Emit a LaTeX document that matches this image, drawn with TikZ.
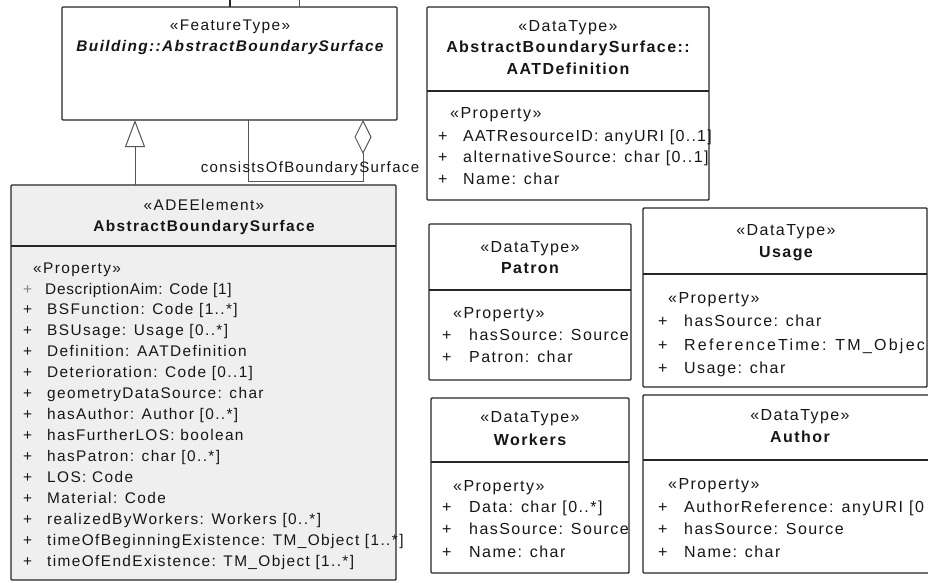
\documentclass[tikz,border=0pt]{standalone}
\usepackage{fontspec}
\setmainfont{Liberation Sans}[LetterSpace=9]
\usetikzlibrary{arrows.meta}
\definecolor{ink}{HTML}{161616}
\definecolor{edge}{HTML}{262626}
\definecolor{shade}{HTML}{EFEFEF}
\definecolor{wire}{HTML}{555555}
\newcommand\lsz{\fontsize{15.4}{18}\selectfont}
\newcommand\rsz{\fontsize{16}{19}\selectfont}
% one compartment of attribute rows: prefix, x of "+", x of text, list y/text
\newcommand\umlrows[4]{%
  \foreach \rowy/\rowtext [count=\rowi] in {#4} {
    \node[row] (#1-p\rowi) at (#2,\rowy) {+};
    \node[row] (#1-r\rowi) at (#3,\rowy) {\rowtext};
  }}
\begin{document}
\begin{tikzpicture}[x=1pt,y=-1pt,
  cls/.style={draw=edge, line width=1.4pt, rounded corners=1pt, anchor=north west,
    inner sep=0pt, outer sep=0pt},
  divider/.style={draw=edge, line width=1.4pt},
  txt/.style={text=ink, inner sep=0pt, text height=11pt, text depth=3pt},
  row/.style={txt, anchor=west},
  link/.style={draw=wire, line width=1pt},
]
\useasboundingbox (0,0) rectangle (928,583);
\clip (0,0) rectangle (928,583);

% ---------------- FeatureType ----------------
\node[cls, minimum width=335pt, minimum height=113pt] (ft) at (62,7) {};
\coordinate (up1) at (230,0);
\coordinate (up2) at (299,0);
\draw[divider] (ft.north -| up1) -- (up1);
\draw[link] (ft.north -| up2) -- (up2);
\begin{scope}[every node/.append style={font=\lsz}]
\node[txt] (ft-st) at (230,27) {«FeatureType»};
\node[txt, font=\lsz\bfseries\itshape] (ft-name) at (230,48) {Building::AbstractBoundarySurface};
\end{scope}

% ---------------- ADEElement ----------------
\node[cls, fill=shade, minimum width=385pt, minimum height=395pt] (ade) at (11,185) {};
\coordinate (adediv) at (0,246);
\draw[divider] (ade.west |- adediv) -- (ade.east |- adediv);
\begin{scope}[every node/.append style={font=\lsz}]
\node[txt] (ade-st) at (204,206) {«ADEElement»};
\node[txt, font=\lsz\bfseries] (ade-name) at (204,227) {AbstractBoundarySurface};
\node[row] (ade-prop) at (33,269) {«Property»};
\node[row, text=gray] (ade-p0) at (23,290) {+};
\node[row] (ade-r0) at (45,290) {\addfontfeature{LetterSpace=4.5}DescriptionAim: Code [1]};
\umlrows{ade}{23}{47}{
  310/{BSFunction: Code [1..*]},
  331/{BSUsage: Usage [0..*]},
  352/{Definition: AATDefinition},
  373/{Deterioration: Code [0..1]},
  394/{geometryDataSource: char},
  415/{hasAuthor: Author [0..*]},
  436/{hasFurtherLOS: boolean},
  457/{hasPatron: char [0..*]},
  478/{LOS: Code},
  499/{Material: Code},
  520/{realizedByWorkers: Workers [0..*]},
  541/{timeOfBeginningExistence: TM\_Object [1..*]},
  562/{timeOfEndExistence: TM\_Object [1..*]}}
\end{scope}

% ---------------- connectors ----------------
\coordinate (g) at (135,0);
\draw[link, -{Triangle[open, length=27pt, width=20pt, fill=white]}]
  (ade.north -| g) -- (ft.south -| g);
\coordinate (a1) at (248,181);
\coordinate (a2) at (363,181);
\draw[link, -{Diamond[open, length=34pt, width=17pt, fill=white]}]
  (ft.south -| a1) -- (a1) -- (a2) -- (ft.south -| a2);
\node[txt, font=\fontsize{15}{18}\selectfont] (assoc-label) at (310,168) {consistsOfBoundarySurface};

% ---------------- DataTypes ----------------
\begin{scope}[every node/.append style={font=\rsz}]
% AATDefinition
\node[cls, minimum width=282pt, minimum height=193pt] (aat) at (427,7) {};
\coordinate (aatdiv) at (0,91);
\draw[divider] (aat.west |- aatdiv) -- (aat.east |- aatdiv);
\node[txt] (aat-st) at (568,28) {«DataType»};
\node[txt, font=\rsz\bfseries] (aat-name1) at (568,49) {AbstractBoundarySurface::};
\node[txt, font=\rsz\bfseries] (aat-name2) at (568,71) {AATDefinition};
\node[row] (aat-prop) at (450,115) {«Property»};
\umlrows{aat}{438}{463}{
  137/{\addfontfeature{LetterSpace=8}AATResourceID: anyURI [0..1]},
  158/{alternativeSource: char [0..1]},
  180/{Name: char}}

% Patron
\node[cls, minimum width=202pt, minimum height=156pt] (patron) at (429,224) {};
\coordinate (patdiv) at (0,290);
\draw[divider] (patron.west |- patdiv) -- (patron.east |- patdiv);
\node[txt] (patron-st) at (530,248) {«DataType»};
\node[txt, font=\rsz\bfseries] (patron-name) at (530,269) {Patron};
\node[row] (patron-prop) at (453,314) {«Property»};
\umlrows{patron}{442}{469}{
  336/{hasSource: Source},
  358/{Patron: char}}

% Usage
\node[cls, minimum width=284pt, minimum height=179pt] (usage) at (643,208) {};
\coordinate (usediv) at (0,274);
\draw[divider] (usage.west |- usediv) -- (usage.east |- usediv);
\node[txt] (usage-st) at (786,231) {«DataType»};
\node[txt, font=\rsz\bfseries] (usage-name) at (786,253) {Usage};
\begin{scope}
\clip (usage.north west) rectangle ([xshift=-1pt]usage.south east);
\node[row] (usage-prop) at (668,299) {«Property»};
\umlrows{usage}{658}{684}{
  322/{hasSource: char},
  346/{\addfontfeature{LetterSpace=14}ReferenceTime: TM\_Objec},
  369/{Usage: char}}
\end{scope}

% Workers
\node[cls, minimum width=198pt, minimum height=175pt] (workers) at (431,398) {};
\coordinate (wrkdiv) at (0,462);
\draw[divider] (workers.west |- wrkdiv) -- (workers.east |- wrkdiv);
\node[txt] (workers-st) at (530,418) {«DataType»};
\node[txt, font=\rsz\bfseries] (workers-name) at (530,441) {Workers};
\node[row] (workers-prop) at (453,487) {«Property»};
\umlrows{workers}{442}{469}{
  508/{Data: char [0..*]},
  530/{hasSource: Source},
  553/{Name: char}}

% Author
\node[cls, minimum width=314pt, minimum height=178pt] (author) at (643,395) {};
\coordinate (autdiv) at (0,460);
\draw[divider] (author.west |- autdiv) -- (author.east |- autdiv);
\node[txt] (author-st) at (800,416) {«DataType»};
\node[txt, font=\rsz\bfseries] (author-name) at (800,438) {Author};
\node[row] (author-prop) at (668,485) {«Property»};
\umlrows{author}{658}{684}{
  508/{\addfontfeature{LetterSpace=10}AuthorReference: anyURI [0},
  530/{hasSource: Source},
  553/{Name: char}}
\end{scope}
\end{tikzpicture}
\end{document}
